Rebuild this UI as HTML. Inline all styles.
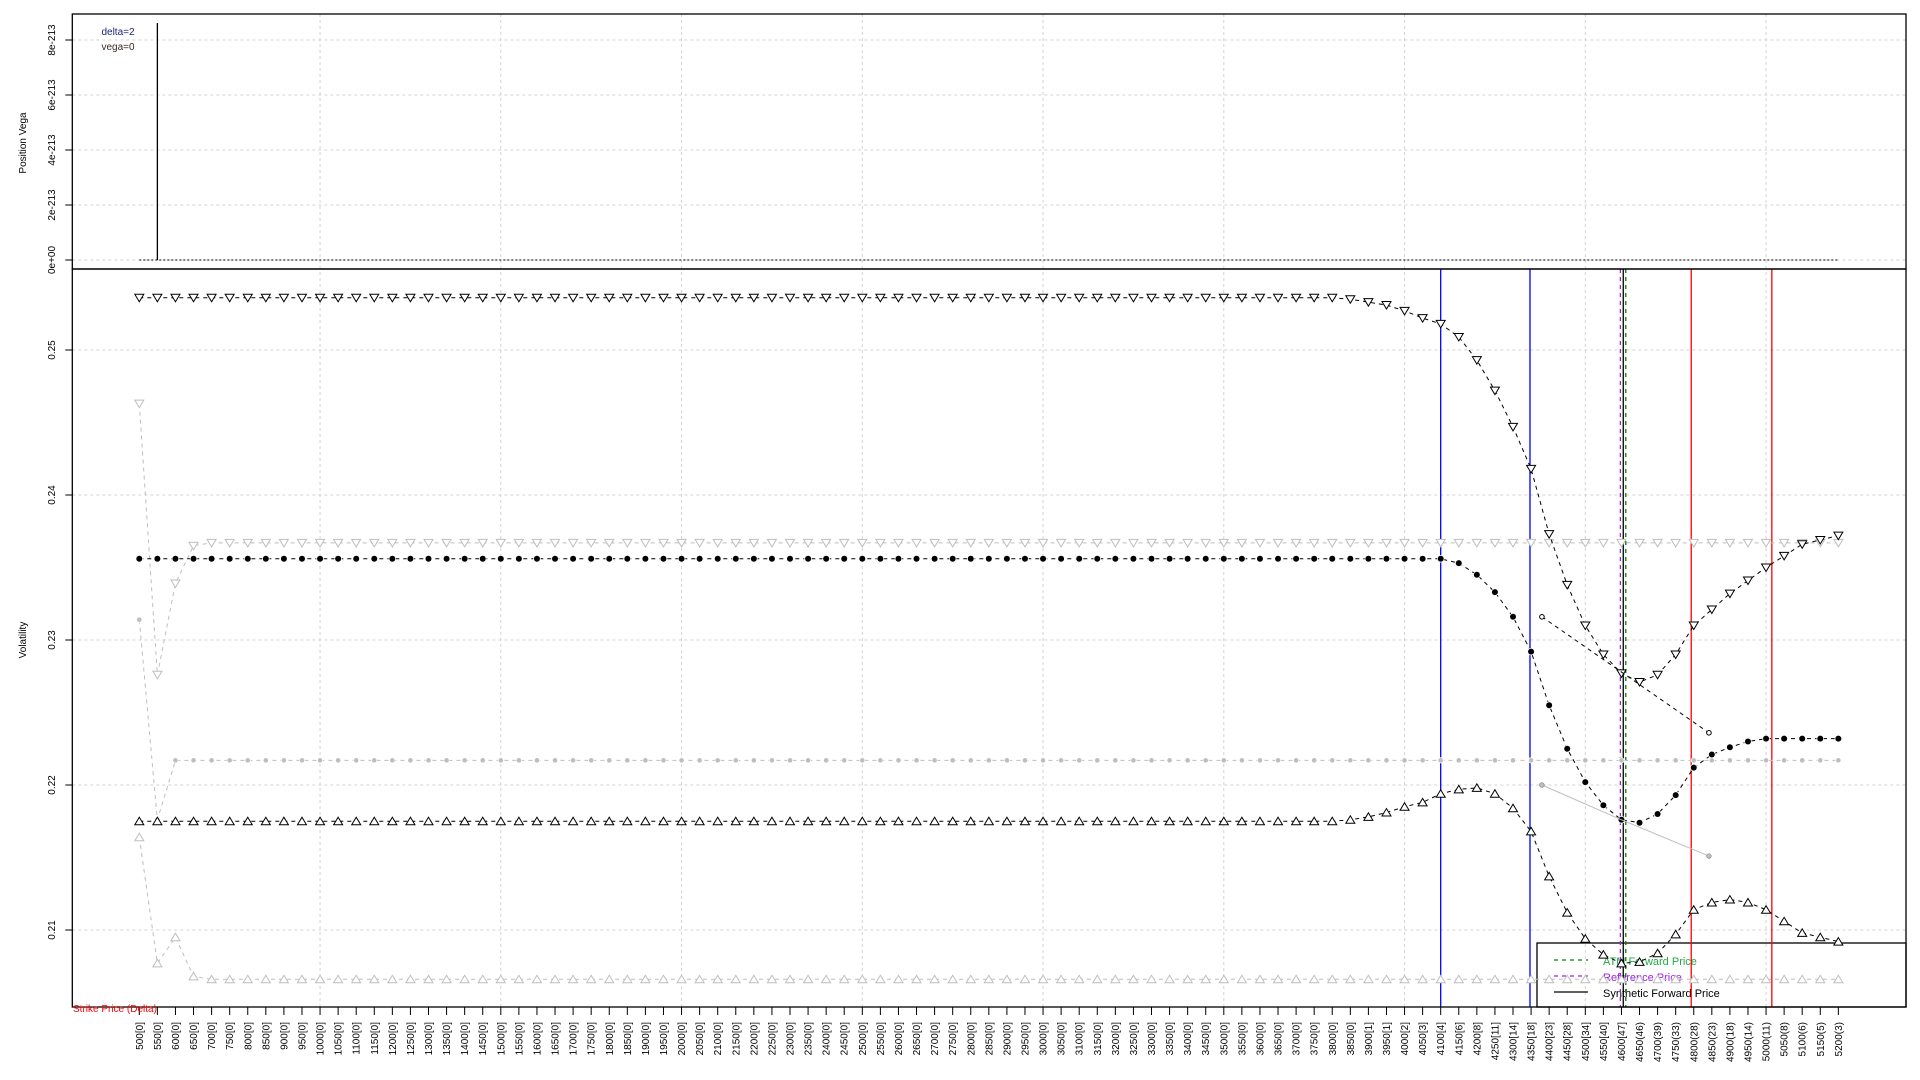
<!DOCTYPE html>
<html><head><meta charset="utf-8">
<style>
html,body{margin:0;padding:0;background:#fff;}
svg{display:block;font-family:"Liberation Sans",Arial,sans-serif;}
</style></head>
<body>
<svg id="chart" width="1920" height="1080" viewBox="0 0 1920 1080" xmlns="http://www.w3.org/2000/svg">
<rect x="0" y="0" width="1920" height="1080" fill="#fff"/>
<g id="grid"></g>
<g>
<rect x="1537" y="943" width="369" height="64" fill="none" stroke="#000" stroke-width="1.3"/>
<line x1="1554" y1="960" x2="1588" y2="960" stroke="#008000" stroke-width="1.3" stroke-dasharray="4,4"/>
<text x="1603" y="965" font-size="11" fill="#22aa44">ATM Forward Price</text>
<line x1="1554" y1="976" x2="1588" y2="976" stroke="#a020f0" stroke-width="1.3" stroke-dasharray="4,4"/>
<text x="1603" y="981" font-size="11" fill="#a020f0">Reference Price</text>
<line x1="1554" y1="992" x2="1588" y2="992" stroke="#000" stroke-width="1.3"/>
<text x="1603" y="997" font-size="11" fill="#000">Synthetic Forward Price</text>
</g>
<g id="vlines"></g>
<g id="series"></g>
<g id="axes"></g>
<text x="118" y="35" font-size="10" fill="#1a237e" text-anchor="middle">delta=2</text>
<text x="118" y="50" font-size="10" fill="#3e2723" text-anchor="middle">vega=0</text>
<text transform="translate(26,143) rotate(-90)" font-size="10" text-anchor="middle">Position Vega</text>
<text transform="translate(26,640) rotate(-90)" font-size="10" text-anchor="middle">Volatility</text>
<text x="73" y="1012" font-size="10" fill="#ff0000">Strike Price (Delta)</text>
</svg>
<script>
const strikes = [500,550,600,650,700,750,800,850,900,950,1000,1050,1100,1150,1200,1250,1300,1350,1400,1450,1500,1550,1600,1650,1700,1750,1800,1850,1900,1950,2000,2050,2100,2150,2200,2250,2300,2350,2400,2450,2500,2550,2600,2650,2700,2750,2800,2850,2900,2950,3000,3050,3100,3150,3200,3250,3300,3350,3400,3450,3500,3550,3600,3650,3700,3750,3800,3850,3900,3950,4000,4050,4100,4150,4200,4250,4300,4350,4400,4450,4500,4550,4600,4650,4700,4750,4800,4850,4900,4950,5000,5050,5100,5150,5200];
const deltas = ["[0]","[0]","[0]","[0]","[0]","[0]","[0]","[0]","[0]","[0]","[0]","[0]","[0]","[0]","[0]","[0]","[0]","[0]","[0]","[0]","[0]","[0]","[0]","[0]","[0]","[0]","[0]","[0]","[0]","[0]","[0]","[0]","[0]","[0]","[0]","[0]","[0]","[0]","[0]","[0]","[0]","[0]","[0]","[0]","[0]","[0]","[0]","[0]","[0]","[0]","[0]","[0]","[0]","[0]","[0]","[0]","[0]","[0]","[0]","[0]","[0]","[0]","[0]","[0]","[0]","[0]","[0]","[0]","[1]","[1]","[2]","[3]","[4]","[6]","[8]","[11]","[14]","[18]","[23]","[28]","[34]","[40]","[47]","(46)","(39)","(33)","(28)","(23)","(18)","(14)","(11)","(8)","(6)","(5)","(3)"];
const blackDown = [0.2536,0.2536,0.2536,0.2536,0.2536,0.2536,0.2536,0.2536,0.2536,0.2536,
0.2536,0.2536,0.2536,0.2536,0.2536,0.2536,0.2536,0.2536,0.2536,0.2536,
0.2536,0.2536,0.2536,0.2536,0.2536,0.2536,0.2536,0.2536,0.2536,0.2536,
0.2536,0.2536,0.2536,0.2536,0.2536,0.2536,0.2536,0.2536,0.2536,0.2536,
0.2536,0.2536,0.2536,0.2536,0.2536,0.2536,0.2536,0.2536,0.2536,0.2536,
0.2536,0.2536,0.2536,0.2536,0.2536,0.2536,0.2536,0.2536,0.2536,0.2536,
0.2536,0.2536,0.2536,0.2536,0.2536,0.2536,0.2536,0.2535,0.2533,0.2531,
0.2527,0.2522,0.2518,0.2509,0.2493,0.2472,0.2447,0.2418,0.2373,0.2338,
0.2310,0.2290,0.2277,0.2271,0.2276,0.2290,0.2310,0.2321,0.2332,0.2341,
0.2350,0.2358,0.2366,0.2369,0.2372];
const blackMid = [0.2356,0.2356,0.2356,0.2356,0.2356,0.2356,0.2356,0.2356,0.2356,0.2356,
0.2356,0.2356,0.2356,0.2356,0.2356,0.2356,0.2356,0.2356,0.2356,0.2356,
0.2356,0.2356,0.2356,0.2356,0.2356,0.2356,0.2356,0.2356,0.2356,0.2356,
0.2356,0.2356,0.2356,0.2356,0.2356,0.2356,0.2356,0.2356,0.2356,0.2356,
0.2356,0.2356,0.2356,0.2356,0.2356,0.2356,0.2356,0.2356,0.2356,0.2356,
0.2356,0.2356,0.2356,0.2356,0.2356,0.2356,0.2356,0.2356,0.2356,0.2356,
0.2356,0.2356,0.2356,0.2356,0.2356,0.2356,0.2356,0.2356,0.2356,0.2356,
0.2356,0.2356,0.2356,0.2353,0.2345,0.2333,0.2316,0.2292,0.2255,0.2225,
0.2202,0.2186,0.2176,0.2174,0.2180,0.2193,0.2212,0.2221,0.2226,0.2230,
0.2232,0.2232,0.2232,0.2232,0.2232];
const blackUp = [0.2175,0.2175,0.2175,0.2175,0.2175,0.2175,0.2175,0.2175,0.2175,0.2175,
0.2175,0.2175,0.2175,0.2175,0.2175,0.2175,0.2175,0.2175,0.2175,0.2175,
0.2175,0.2175,0.2175,0.2175,0.2175,0.2175,0.2175,0.2175,0.2175,0.2175,
0.2175,0.2175,0.2175,0.2175,0.2175,0.2175,0.2175,0.2175,0.2175,0.2175,
0.2175,0.2175,0.2175,0.2175,0.2175,0.2175,0.2175,0.2175,0.2175,0.2175,
0.2175,0.2175,0.2175,0.2175,0.2175,0.2175,0.2175,0.2175,0.2175,0.2175,
0.2175,0.2175,0.2175,0.2175,0.2175,0.2175,0.2175,0.2176,0.2178,0.2181,
0.2185,0.2188,0.2194,0.2197,0.2198,0.2194,0.2184,0.2168,0.2137,0.2112,
0.2094,0.2083,0.2077,0.2078,0.2084,0.2097,0.2114,0.2119,0.2121,0.2119,
0.2114,0.2106,0.2098,0.2095,0.2092];
const grayDown = [0.2463,0.2276,0.2339,0.2365,0.2367,0.2367,0.2367,0.2367,0.2367,0.2367,
0.2367,0.2367,0.2367,0.2367,0.2367,0.2367,0.2367,0.2367,0.2367,0.2367,
0.2367,0.2367,0.2367,0.2367,0.2367,0.2367,0.2367,0.2367,0.2367,0.2367,
0.2367,0.2367,0.2367,0.2367,0.2367,0.2367,0.2367,0.2367,0.2367,0.2367,
0.2367,0.2367,0.2367,0.2367,0.2367,0.2367,0.2367,0.2367,0.2367,0.2367,
0.2367,0.2367,0.2367,0.2367,0.2367,0.2367,0.2367,0.2367,0.2367,0.2367,
0.2367,0.2367,0.2367,0.2367,0.2367,0.2367,0.2367,0.2367,0.2367,0.2367,
0.2367,0.2367,0.2367,0.2367,0.2367,0.2367,0.2367,0.2367,0.2367,0.2367,
0.2367,0.2367,0.2367,0.2367,0.2367,0.2367,0.2367,0.2367,0.2367,0.2367,
0.2367,0.2367,0.2367,0.2367,0.2367];
const grayMid = [0.2314,0.2176,0.2217,0.2217,0.2217,0.2217,0.2217,0.2217,0.2217,0.2217,
0.2217,0.2217,0.2217,0.2217,0.2217,0.2217,0.2217,0.2217,0.2217,0.2217,
0.2217,0.2217,0.2217,0.2217,0.2217,0.2217,0.2217,0.2217,0.2217,0.2217,
0.2217,0.2217,0.2217,0.2217,0.2217,0.2217,0.2217,0.2217,0.2217,0.2217,
0.2217,0.2217,0.2217,0.2217,0.2217,0.2217,0.2217,0.2217,0.2217,0.2217,
0.2217,0.2217,0.2217,0.2217,0.2217,0.2217,0.2217,0.2217,0.2217,0.2217,
0.2217,0.2217,0.2217,0.2217,0.2217,0.2217,0.2217,0.2217,0.2217,0.2217,
0.2217,0.2217,0.2217,0.2217,0.2217,0.2217,0.2217,0.2217,0.2217,0.2217,
0.2217,0.2217,0.2217,0.2217,0.2217,0.2217,0.2217,0.2217,0.2217,0.2217,
0.2217,0.2217,0.2217,0.2217,0.2217];
const grayUp = [0.2164,0.2077,0.2095,0.2068,0.2066,0.2066,0.2066,0.2066,0.2066,0.2066,
0.2066,0.2066,0.2066,0.2066,0.2066,0.2066,0.2066,0.2066,0.2066,0.2066,
0.2066,0.2066,0.2066,0.2066,0.2066,0.2066,0.2066,0.2066,0.2066,0.2066,
0.2066,0.2066,0.2066,0.2066,0.2066,0.2066,0.2066,0.2066,0.2066,0.2066,
0.2066,0.2066,0.2066,0.2066,0.2066,0.2066,0.2066,0.2066,0.2066,0.2066,
0.2066,0.2066,0.2066,0.2066,0.2066,0.2066,0.2066,0.2066,0.2066,0.2066,
0.2066,0.2066,0.2066,0.2066,0.2066,0.2066,0.2066,0.2066,0.2066,0.2066,
0.2066,0.2066,0.2066,0.2066,0.2066,0.2066,0.2066,0.2066,0.2066,0.2066,
0.2066,0.2066,0.2066,0.2066,0.2066,0.2066,0.2066,0.2066,0.2066,0.2066,
0.2066,0.2066,0.2066,0.2066,0.2066];
const openLineX = [4380,4842];
const openLineY = [0.2316,0.2236];
const grayLineX = [4380,4600,4842];
const grayLineY = [0.2200,0.2176,0.2151];
const yTicks = [0.21,0.22,0.23,0.24,0.25];
const yTickLabels = ["0.21","0.22","0.23","0.24","0.25"];
const topTicks = [0,2,4,6,8];
const topTickLabels = ["0e+00","2e-213","4e-213","6e-213","8e-213"];
const gridStrikes = [1000,1500,2000,2500,3000,3500,4000,4500,5000];
const refLines = [
 {k:4100,c:"#0000ff",d:""},{k:4347,c:"#0000ff",d:""},
 {k:4597,c:"#a020f0",d:"4,4"},{k:4605,c:"#000",d:""},{k:4612,c:"#008000",d:"4,4"},
 {k:4793,c:"#ff0000",d:""},{k:5016,c:"#ff0000",d:""}];
const vegaStrikes = [500,5200];
const vegaValues = [0,0];
const deltaSpikeStrike = 550;

const NS="http://www.w3.org/2000/svg";
const L=72.3,R=1906,T1=14,B1=269,B2=1007;
function xs(k){return 139.3+(k-500)/50*18.075;}
function ys(v){return 930-(v-0.21)*14500;}
function yt(v){return 260-v*27.5;}
function mk(tag,attrs,parent){const e=document.createElementNS(NS,tag);for(const a in attrs)e.setAttribute(a,attrs[a]);parent.appendChild(e);return e;}
const grid=document.getElementById('grid'),axes=document.getElementById('axes'),ser=document.getElementById('series'),vl=document.getElementById('vlines');

gridStrikes.forEach(k=>{
 const g=mk('line',{x1:xs(k),x2:xs(k),y1:T1,y2:B2,stroke:'#d3d3d3','stroke-dasharray':'3,3'},grid);
 
 
});
yTicks.forEach(v=>{
 const g=mk('line',{x1:L,x2:R,y1:ys(v),y2:ys(v),stroke:'#d3d3d3','stroke-dasharray':'3,3'},grid);
 
 
});
topTicks.forEach(v=>{
 const g=mk('line',{x1:L,x2:R,y1:yt(v),y2:yt(v),stroke:'#d3d3d3','stroke-dasharray':'3,3'},grid);
 
 
});

refLines.forEach(r=>{
 const a={x1:xs(r.k),x2:xs(r.k),y1:B1,y2:B2,stroke:r.c,'stroke-width':1.3};
 if(r.d)a['stroke-dasharray']=r.d;
 const e=mk('line',a,vl);
 
 
});

const vp=mk('polyline',{points:vegaStrikes.map((k,i)=>xs(k)+','+yt(vegaValues[i])).join(' '),fill:'none',stroke:'#000','stroke-dasharray':'2,2'},ser);


const sp=mk('line',{x1:xs(deltaSpikeStrike),x2:xs(deltaSpikeStrike),y1:23,y2:260,stroke:'#000','stroke-width':1.3},ser);



function series(vals,name,color,marker,dash){
 const g=mk('g',{},ser);
 
 
 const pl=mk('polyline',{points:vals.map((v,i)=>xs(strikes[i])+','+ys(v)).join(' '),fill:'none',stroke:color,'stroke-width':1,'stroke-dasharray':dash},g);
 
 
 vals.forEach((v,i)=>{
  const x=xs(strikes[i]),y=ys(v);let m;
  if(marker==='down'){m=mk('polygon',{points:`${x-4.5},${y-3.5} ${x+4.5},${y-3.5} ${x},${y+4}`,fill:'#fff',stroke:color,'stroke-width':1},g);}
  else if(marker==='up'){m=mk('polygon',{points:`${x-4.5},${y+3.5} ${x+4.5},${y+3.5} ${x},${y-4}`,fill:'#fff',stroke:color,'stroke-width':1},g);}
  else {m=mk('circle',{cx:x,cy:y,r:marker==='dot'?3:2.3,fill:color,stroke:'#fff','stroke-width':1.5,'paint-order':'stroke'},g);}
  
  
 });
}
series(grayDown,'gray-upper-series','#bebebe','down','4,4');
series(grayMid,'gray-mid-series','#bebebe','smalldot','4,4');
series(grayUp,'gray-lower-series','#bebebe','up','4,4');
series(blackDown,'upper-vol-series','#000','down','4,4');
series(blackMid,'mid-vol-series','#000','dot','4,4');
series(blackUp,'lower-vol-series','#000','up','4,4');

const ol=mk('polyline',{points:openLineX.map((k,i)=>xs(k)+','+ys(openLineY[i])).join(' '),fill:'none',stroke:'#000','stroke-dasharray':'4,4'},ser);


openLineX.forEach((k,i)=>{const c=mk('circle',{cx:xs(k),cy:ys(openLineY[i]),r:2.3,fill:'#fff',stroke:'#000'},ser);
 
 });
const gl=mk('polyline',{points:grayLineX.map((k,i)=>xs(k)+','+ys(grayLineY[i])).join(' '),fill:'none',stroke:'#bebebe'},ser);


[0,2].forEach(i=>{const c=mk('circle',{cx:xs(grayLineX[i]),cy:ys(grayLineY[i]),r:2.3,fill:'#bebebe',stroke:'#777','stroke-width':0.6},ser);
 
 });

const b1=mk('rect',{x:L,y:T1,width:R-L,height:B1-T1,fill:'none',stroke:'#000','stroke-width':1.3},axes);


const b2=mk('rect',{x:L,y:B1,width:R-L,height:B2-B1,fill:'none',stroke:'#000','stroke-width':1.3},axes);



yTicks.forEach((v,i)=>{
 mk('line',{x1:L-7,x2:L,y1:ys(v),y2:ys(v),stroke:'#000'},axes);
 const t=mk('text',{transform:`translate(55,${ys(v)}) rotate(-90)`,'font-size':10,'text-anchor':'middle'},axes);
 t.textContent=yTickLabels[i];
 
 
});
topTicks.forEach((v,i)=>{
 mk('line',{x1:L-7,x2:L,y1:yt(v),y2:yt(v),stroke:'#000'},axes);
 const t=mk('text',{transform:`translate(55,${yt(v)}) rotate(-90)`,'font-size':10,'text-anchor':'middle'},axes);
 t.textContent=topTickLabels[i];
 
 
});
strikes.forEach((k,i)=>{
 mk('line',{x1:xs(k),x2:xs(k),y1:B2,y2:B2+8,stroke:'#000'},axes);
 const t=mk('text',{transform:`translate(${xs(k)+3.5},1022) rotate(-90)`,'font-size':10,'text-anchor':'end'},axes);
 t.textContent=k+deltas[i];
 
 
});
</script>
</body></html>
